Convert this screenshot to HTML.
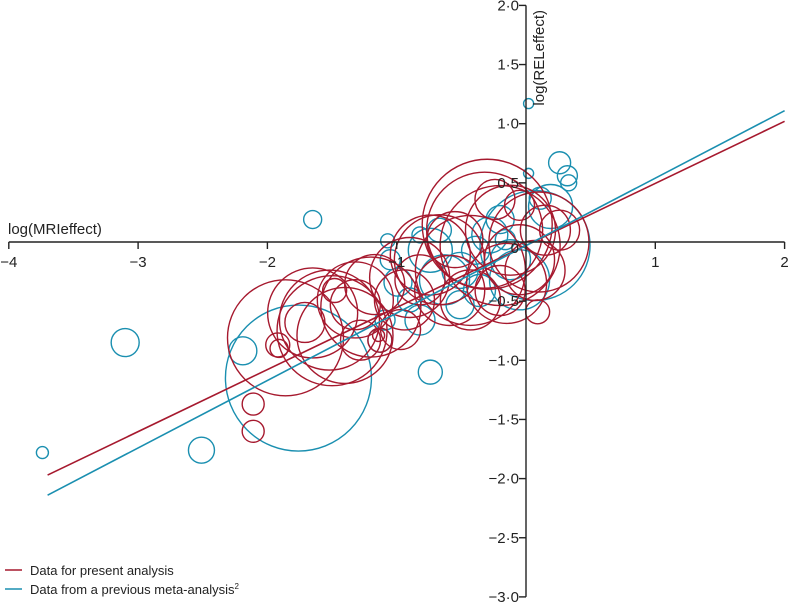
<!DOCTYPE html>
<html><head><meta charset="utf-8"><style>
body{margin:0;background:#fff}
svg{display:block;font-family:"Liberation Sans",sans-serif}
</style></head><body>
<svg id="chart" width="788" height="604" viewBox="0 0 788 604" xmlns="http://www.w3.org/2000/svg">
<g id="blueG"></g>
<g id="redG"></g>
<g id="lines"></g>
<g id="axes"></g>
<g>
<line x1="5" y1="570" x2="22" y2="570" stroke="#a6192e" stroke-width="1.6"/>
<text x="30" y="575" font-size="13" fill="#222">Data for present analysis</text>
<line x1="5" y1="589" x2="22" y2="589" stroke="#1a8fb0" stroke-width="1.6"/>
<text x="30" y="594" font-size="13" fill="#222">Data from a previous meta-analysis<tspan font-size="8" dy="-5">2</tspan></text>
</g>
</svg>
<script>
const xTicks=[-4,-3,-2,-1,0,1,2];
const yTicks=[2,1.5,1,0.5,0,-0.5,-1,-1.5,-2,-2.5,-3];
const blueX=[-3.74,-3.10,-2.51,-2.19,-1.65,-1.76,-1.07,-0.74,0.02,0.02,0.26,0.32,0.33,0.11,0.19,0.07,-1.05,-0.99,-0.90,-0.82,-0.74,-0.51,-0.39,-0.28,-0.20,-0.12,-0.36,-0.51,-0.82,-1.09,-1.13,-0.63,-0.05,-0.16,-0.67];
const blueY=[-1.78,-0.85,-1.76,-0.92,0.19,-1.15,0.01,-1.10,0.58,1.17,0.67,0.56,0.50,0.37,0.30,-0.03,-0.15,-0.34,-0.49,0.06,-0.07,-0.24,-0.07,0.06,0.19,-0.15,-0.41,-0.53,-0.66,-0.66,-0.83,-0.32,-0.32,0.02,0.10];
const blueSize=[6,14,13,14,9,73,7,12,5,5,11,10,8,11,22,55,10,14,12,8,22,18,14,18,14,20,16,14,15,10,12,25,30,10,12];
const redX=[-2.11,-2.11,-1.92,-1.91,-1.86,-1.71,-1.52,-1.40,-1.32,-1.17,-1.48,-1.32,-1.13,-1.14,-1.28,-0.94,-0.82,-0.74,-0.59,-0.43,-0.32,-0.20,-0.12,-0.05,0.07,0.15,-0.05,0.09,-0.43,-0.67,-0.20,-0.24,-0.97,-0.55,0.26,-1.5,-1.2,-0.3,0.1,-0.9,-1.65,-0.15];
const redY=[-1.37,-1.60,-0.87,-0.90,-0.81,-0.68,-0.66,-0.79,-0.49,-0.36,-0.41,-0.53,-0.83,-0.79,-0.83,-0.49,-0.32,-0.11,-0.41,-0.49,0.10,-0.03,0.10,-0.15,-0.24,0.10,0.31,-0.59,-0.24,-0.15,-0.41,0.36,-0.74,0.02,0.10,-0.75,-0.55,0.15,0.0,-0.3,-0.6,-0.35];
const redSize=[11,11,12,9,58,20,50,48,38,30,12,25,12,6,20,30,25,40,35,30,58,60,45,35,30,25,15,12,55,45,25,20,20,28,20,55,50,65,50,40,45,40];
const redLine=[[-3.7,-1.97],[2,1.02]];
const blueLine=[[-3.7,-2.14],[2,1.11]];

const NS="http://www.w3.org/2000/svg";
const X0=526,XS=129.3,Y0=242,YS=118.3;
const sx=v=>X0+v*XS, sy=v=>Y0-v*YS;
function mk(tag,attrs,parent){const e=document.createElementNS(NS,tag);for(const k in attrs)e.setAttribute(k,attrs[k]);parent.appendChild(e);return e;}
const fmt=v=>{let s=Math.abs(v)%1===0?String(Math.abs(v))+"·0":String(Math.abs(v)).replace(".","·");if(v===0)s="0";return (v<0?"\u2212":"")+s;};

const bG=document.getElementById('blueG');
blueX.forEach((x,i)=>{const c=mk('circle',{cx:sx(x),cy:sy(blueY[i]),r:blueSize[i],fill:'none',stroke:'#1a8fb0','stroke-width':1.4},bG);

});
const rG=document.getElementById('redG');
redX.forEach((x,i)=>{const c=mk('circle',{cx:sx(x),cy:sy(redY[i]),r:redSize[i],fill:'none',stroke:'#a6192e','stroke-width':1.4},rG);

});

const lG=document.getElementById('lines');
const rl=mk('line',{x1:sx(redLine[0][0]),y1:sy(redLine[0][1]),x2:sx(redLine[1][0]),y2:sy(redLine[1][1]),stroke:'#a6192e','stroke-width':1.6},lG);


const bl=mk('line',{x1:sx(blueLine[0][0]),y1:sy(blueLine[0][1]),x2:sx(blueLine[1][0]),y2:sy(blueLine[1][1]),stroke:'#1a8fb0','stroke-width':1.6},lG);



const aG=document.getElementById('axes');
const xa=mk('line',{x1:sx(-4),y1:Y0,x2:sx(2),y2:Y0,stroke:'#222','stroke-width':1.4},aG);


const ya=mk('line',{x1:X0,y1:sy(2),x2:X0,y2:sy(-3),stroke:'#222','stroke-width':1.4},aG);


xTicks.forEach(v=>{
  if(v!==0){const t=mk('line',{x1:sx(v),y1:Y0,x2:sx(v),y2:Y0+7,stroke:'#222','stroke-width':1.4},aG);
  
  
  const l=mk('text',{x:sx(v),y:Y0+25,'font-size':15,fill:'#222','text-anchor':'middle'},aG);l.textContent=fmt(v).replace("·0","");
  
  }
});
yTicks.forEach(v=>{
  if(v!==0){const t=mk('line',{x1:X0-7,y1:sy(v),x2:X0,y2:sy(v),stroke:'#222','stroke-width':1.4},aG);
  
  }
  const l=mk('text',{x:X0-7,y:sy(v)+(v===0?11:5),'font-size':15,fill:'#222','text-anchor':'end'},aG);l.textContent=fmt(v);
  
  
});
const xt=mk('text',{x:8,y:Y0-8,'font-size':15,fill:'#222'},aG);xt.textContent='log(MRIeffect)';


const yt=mk('text',{x:0,y:0,'font-size':15,fill:'#222','text-anchor':'end',transform:'translate(544,10) rotate(-90)'},aG);yt.textContent='log(RELeffect)';


</script>
</body></html>
